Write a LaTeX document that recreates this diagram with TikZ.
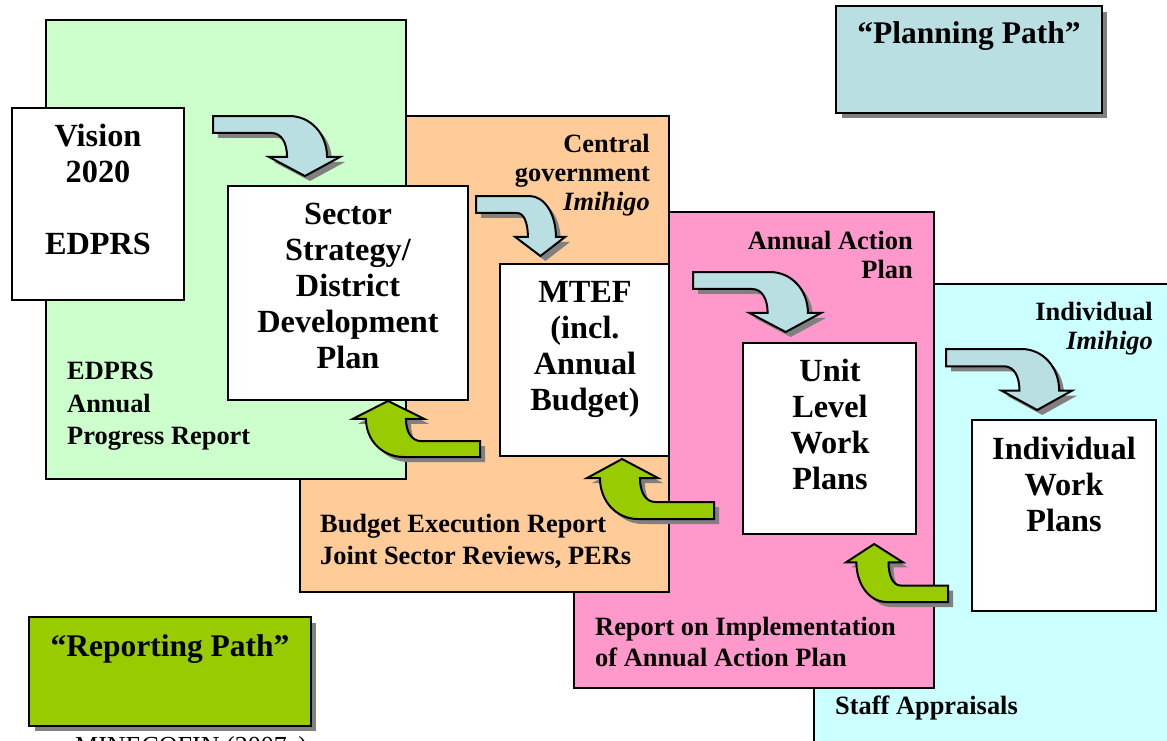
\documentclass[tikz,border=0pt]{standalone}
\usepackage{fontspec}
\setmainfont{Liberation Serif}
\definecolor{regGreen}{HTML}{CCFFCC}
\definecolor{regOrange}{HTML}{FFCC99}
\definecolor{regPink}{HTML}{FF99CC}
\definecolor{regCyan}{HTML}{CCFFFF}
\definecolor{planBlue}{HTML}{B9DFE3}
\definecolor{repGreen}{HTML}{99CC00}
\definecolor{shadowGray}{HTML}{808080}
\newcommand{\bigf}{\fontsize{32.3}{36}\selectfont\bfseries}
\newcommand{\labf}{\fontsize{26.4}{29}\selectfont\bfseries}
\newcommand{\bentarrow}[5]{%
  \begin{scope}[shift={(#2+5,#3+5)},xscale=#4,yscale=#5]
    \fill[shadowGray] (0,0) -- (0.6,0) .. controls (0.77,0) and (0.898,0.3) .. (0.898,0.683)
      -- (1,0.683) -- (0.724,1) -- (0.441,0.683) -- (0.583,0.683)
      .. controls (0.583,0.45) and (0.54,0.283) .. (0.46,0.283) -- (0,0.283) -- cycle;
  \end{scope}
  \begin{scope}[shift={(#2,#3)},xscale=#4,yscale=#5]
    \filldraw[fill=#1,draw=black,line width=2pt,line join=miter] (0,0) -- (0.6,0) .. controls (0.77,0) and (0.898,0.3) .. (0.898,0.683)
      -- (1,0.683) -- (0.724,1) -- (0.441,0.683) -- (0.583,0.683)
      .. controls (0.583,0.45) and (0.54,0.283) .. (0.46,0.283) -- (0,0.283) -- cycle;
  \end{scope}}
\begin{document}
\begin{tikzpicture}[x=1pt,y=-1pt,
  region/.style={draw=black,line width=2pt,anchor=north west,inner sep=0pt,outer sep=0pt},
  wbox/.style={draw=black,fill=white,line width=2pt,anchor=north west,inner sep=0pt,outer sep=0pt},
  legend/.style={draw=black,line width=2pt,anchor=north west,inner sep=0pt,outer sep=0pt},
  bigtxt/.style={font=\bigf,align=center,inner sep=0pt,anchor=north},
  labr/.style={font=\labf,align=right,inner sep=0pt,anchor=north east},
  labl/.style={font=\labf,align=left,inner sep=0pt,anchor=north west}]
\clip (0,0) rectangle (1167,740);
\fill[white] (0,0) rectangle (1167,740);
% regions (back to front)
\node[region,fill=regCyan,minimum width=370pt,minimum height=480pt] (cyan) at (814,284) {};
\node[region,fill=regPink,minimum width=360pt,minimum height=476pt] (pink) at (574,212) {};
\node[region,fill=regOrange,minimum width=369pt,minimum height=476pt] (orange) at (300,116) {};
\node[region,fill=regGreen,minimum width=360pt,minimum height=459pt] (green) at (46,20) {};
% white boxes
\node[wbox,minimum width=172pt,minimum height=192pt] (vision) at (12,108) {};
\node[wbox,minimum width=240pt,minimum height=214pt] (sector) at (228,186) {};
\node[wbox,minimum width=169pt,minimum height=192pt] (mtef) at (500,264) {};
\node[wbox,minimum width=173pt,minimum height=191pt] (unit) at (743,343) {};
\node[wbox,minimum width=184pt,minimum height=191pt] (indiv) at (972,420) {};
% legends
\fill[shadowGray] (842,12) rectangle (1107,118);
\node[legend,fill=planBlue,minimum width=266pt,minimum height=107pt] (planleg) at (836,6) {};
\fill[shadowGray] (35,623) rectangle (316,731);
\node[legend,fill=repGreen,minimum width=282pt,minimum height=109pt] (repleg) at (29,617) {};
% planning arrows
\bentarrow{planBlue}{213}{116}{127}{60}
\bentarrow{planBlue}{476}{196}{89}{60}
\bentarrow{planBlue}{693}{272}{128}{60}
\bentarrow{planBlue}{946}{349}{126}{61}
% reporting arrows
\bentarrow{repGreen}{480}{457}{-127}{-56}
\bentarrow{repGreen}{714}{519}{-127}{-60}
\bentarrow{repGreen}{948}{602}{-102}{-58}
% box texts
\node[bigtxt] (visiont) at (98,124) {Vision\\2020\\[36pt]EDPRS};
\node[bigtxt] (sectort) at (348,203) {Sector\\Strategy/\\District\\Development\\Plan};
\node[bigtxt] (mteft) at (585,281) {MTEF\\(incl.\\Annual\\Budget)};
\node[bigtxt] (unitt) at (830,359) {Unit\\Level\\Work\\Plans};
\node[bigtxt] (indivt) at (1064,437) {Individual\\Work\\Plans};
% region labels
\node[labr] (centralt) at (650,134) {Central\\government\\\textit{Imihigo}};
\node[labr] (aapt) at (913,231) {Annual Action\\Plan};
\node[labr] (indimt) at (1153,302) {Individual\\\textit{Imihigo}};
\node[labl,font=\fontsize{26.4}{32.5}\selectfont\bfseries] (edprst) at (67,362) {EDPRS\\Annual\\Progress Report};
\node[labl,font=\fontsize{26.4}{32}\selectfont\bfseries] (budgett) at (320,514) {Budget Execution Report\\Joint Sector Reviews, PERs};
\node[labl,font=\fontsize{26.4}{31}\selectfont\bfseries] (reportt) at (595,617) {Report on Implementation\\of Annual Action Plan};
\node[labl] (stafft) at (835,696) {Staff Appraisals};
% legend texts
\node[bigtxt,font=\fontsize{31.5}{36}\selectfont\bfseries] (plant) at (969,21) {“Planning Path”};
\node[bigtxt,font=\fontsize{31.5}{36}\selectfont\bfseries] (rept) at (170,634) {“Reporting Path”};
% source (cut off at the lower edge, as in the reference)
\node[font=\fontsize{26}{30}\selectfont,inner sep=0pt,anchor=base west] (src) at (75,754) {MINECOFIN (2007a)};
\end{tikzpicture}
\end{document}
